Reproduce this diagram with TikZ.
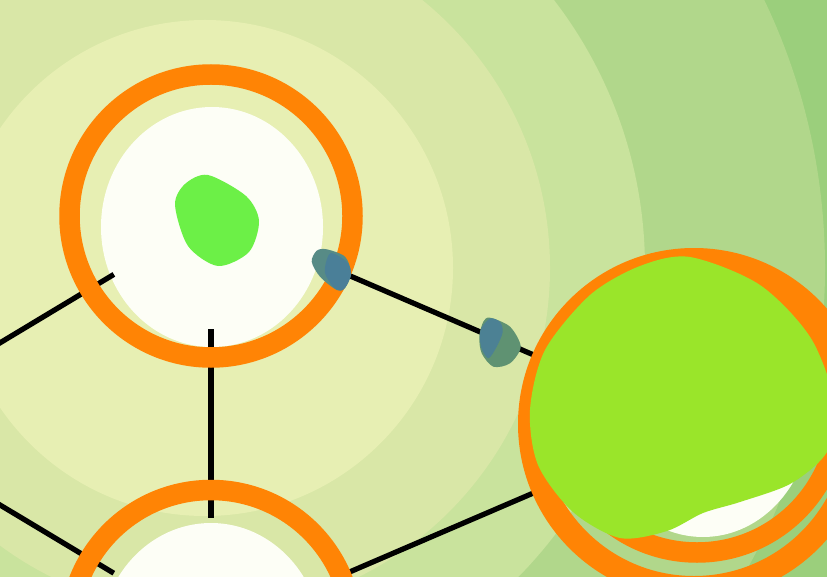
\documentclass[tikz,border=0pt]{standalone}
\usepackage{xcolor}
\usepackage{tikz}

\definecolor{bandA}{HTML}{E7EFB3}
\definecolor{bandB}{HTML}{D9E7A7}
\definecolor{bandC}{HTML}{C9E39D}
\definecolor{bandD}{HTML}{B1D78B}
\definecolor{bandE}{HTML}{9BCF7C}
\definecolor{ringorange}{HTML}{FF8405}
\definecolor{cellwhite}{HTML}{FDFEF6}
\definecolor{sprout}{HTML}{6CF047}
\definecolor{leaf}{HTML}{9AE52A}
\definecolor{dropteal}{HTML}{578B86}
\definecolor{dropblue}{HTML}{4A7F98}
\definecolor{dropgreen}{HTML}{5F9272}

\begin{document}
\begin{tikzpicture}[x=0.02cm,y=-0.02cm,
        vertex/.style={circle,inner sep=0pt,minimum size=4.52cm},
        bigvertex/.style={circle,inner sep=0pt,minimum size=6cm},
        ring/.style={draw=ringorange,line width=0.41cm},
        link/.style={draw=black,line width=0.105cm}]
        \useasboundingbox (0,0) rectangle (827,577);
        \clip (0,0) rectangle (827,577);
        \fill[bandE] (0,0) rectangle (827,577);
        \foreach \r/\c in {620/bandD,440/bandC,345/bandB,248/bandA}{
            \fill[\c] (205,268) circle[radius=\r];
        }
        \node[vertex] (n1) at (211,216) {};
        \node[vertex] (n2) at (211,631.5) {};
        \node[bigvertex] (n3) at (694,424) {};
        \coordinate (w) at (-135,424);
        \fill[cellwhite] (212,227) ellipse[x radius=111,y radius=120];
        \fill[cellwhite] (211,643) ellipse[x radius=111,y radius=120];
        \fill[cellwhite] (703,415) ellipse[x radius=108,y radius=122];
        \draw[link] (n1) -- (w);
        \draw[link] (n2) -- (w);
        \draw[link] (n1) -- (n2);
        \draw[link] (n1) -- (n3);
        \draw[link] (n2) -- (n3);
        \draw[ring] (n1.center) circle[radius=141.5];
        \draw[ring] (n2.center) circle[radius=141.5];
        \draw[ring] (697,411) circle[radius=141.5];
        \draw[ring,line width=0.48cm] (n3.center) circle[radius=164];
        \fill[sprout] plot[smooth cycle] coordinates
            {(208,175)(246,196)(259,221)(249,252)(218,266)(188,246)(175,205)(185,184)};
        \fill[leaf] plot[smooth cycle] coordinates
            {(690,257)(760,285)(812,340)(838,415)(825,455)(790,484)(740,502)(703,513)
             (667,531)(620,538)(573,512)(538,465)(530,410)(545,350)(590,295)(640,266)};
        \fill[dropteal] plot[smooth cycle] coordinates
            {(326.7,249.3)(345,256.7)(351,273)(345,288)(336.7,290)(320,276.7)(311.7,261.7)(316.7,250.7)};
        \fill[dropblue] plot[smooth cycle] coordinates
            {(331.7,253)(346.7,261.7)(351,275)(343,290)(333,286.7)(325,273)(326.7,260)};
        \fill[dropgreen] plot[smooth cycle] coordinates
            {(490,317.7)(510,326.7)(520.7,346.7)(510,363.3)(493.3,366.7)(481.7,353.3)(479.3,336.7)(483.3,321.7)};
        \fill[dropblue!90!dropgreen] plot[smooth cycle] coordinates
            {(490,318.5)(500,322)(502.7,332)(496.7,346.7)(488.3,358.3)(481,346.7)(480.5,330)};
    \end{tikzpicture}
\end{document}
